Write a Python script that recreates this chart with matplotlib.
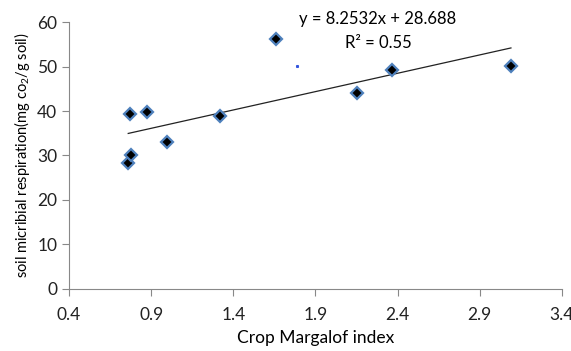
import matplotlib
matplotlib.use("Agg")
import matplotlib.pyplot as plt
import numpy as np

plt.rcParams['font.family'] = ['Lato', 'DejaVu Sans']
plt.rcParams['mathtext.default'] = 'regular'

# crop Margalof index vs soil microbial respiration
margalof = [0.76, 0.777, 0.771, 0.875, 0.996, 1.32, 1.66, 2.153, 2.366, 3.09]
respiration = [28.3, 30.1, 39.4, 39.8, 33.0, 38.9, 56.3, 44.0, 49.2, 50.1]
stray_x = [1.79]
stray_y = [50.1]
slope, intercept = 8.2532, 28.688

fig = plt.figure(figsize=(5.71, 3.51), dpi=100)
ax = fig.add_axes([0.121, 0.177, 0.863, 0.76])

xs = np.array([min(margalof), max(margalof)])
ax.plot(xs, slope * xs + intercept, color='#222222', lw=0.9, zorder=2)
ax.plot(margalof, respiration, ls='none', marker='D', ms=6.5, mfc='black',
        mec='#4F81BD', mew=1.6, zorder=3)
ax.plot(stray_x, stray_y, ls='none', marker='s', ms=1.2, color='#3355dd')

ax.text(2.28, 60.6, 'y = 8.2532x + 28.688', ha='center', va='center', fontsize=12, clip_on=False)
ax.text(2.28, 55.3, 'R² = 0.55', ha='center', va='center', fontsize=12)

ax.set_xlim(0.4, 3.4)
ax.set_ylim(0, 60)
ax.set_xticks(np.arange(0.4, 3.41, 0.5))
ax.set_xticklabels(['0.4', '0.9', '1.4', '1.9', '2.4', '2.9', '3.4'])
ax.set_yticks(range(0, 61, 10))
for s in ['top', 'right']:
    ax.spines[s].set_visible(False)
for s in ['left', 'bottom']:
    ax.spines[s].set_color('#888888')
ax.tick_params(colors='#888888', labelcolor='#222222', labelsize=12.5, length=5, width=0.8)
ax.tick_params(axis='x', pad=8)
ax.set_xlabel('Crop Margalof index', fontsize=12.5, labelpad=5)
ax.set_ylabel('soil micribial respiration(mg co$_2$/g soil)', fontsize=10.5, labelpad=4)

fig.savefig('out.png', dpi=100)
